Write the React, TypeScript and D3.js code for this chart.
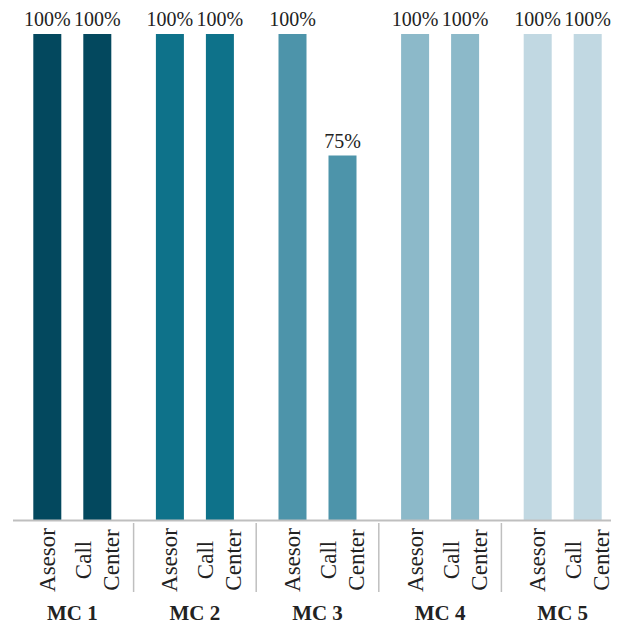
import React from "react";
import * as d3 from "d3";

// datos del gráfico
const grupos = ["MC 1", "MC 2", "MC 3", "MC 4", "MC 5"];
const series = ["Asesor", "Call Center"];
const asesor = [1, 1, 1, 1, 1];
const callCenter = [1, 1, 0.75, 1, 1];
const colores = ["#03485e", "#0e728a", "#4d94aa", "#8cb9c9", "#c1d8e2"];

const W = 620;
const H = 641;
const baseY = 520;
const topY = 34;
const barW = 28;
const font = { fontFamily: '"Liberation Serif", serif' };

const App = () => {
  const x = d3.scaleBand<string>().domain(grupos).range([11, 624]);
  const sub = d3.scalePoint<string>().domain(series).range([-25, 25]);
  const y = d3.scaleLinear().domain([0, 1]).range([baseY, topY]);
  const pct = d3.format(".0%");

  const valores = [asesor, callCenter];

  return (
    <svg width={W} height={H} style={{ position: "absolute", left: 0, top: 0 }}>
      <rect width={W} height={H} fill="#fff" />
      {grupos.map((g, gi) => {
        const cx = (x(g) ?? 0) + x.bandwidth() / 2;
        return (
          <g key={g}>
            {series.map((s, si) => {
              const v = valores[si][gi];
              const bx = cx + (sub(s) ?? 0);
              return (
                <g key={s}>
                  <rect
                    x={bx - barW / 2}
                    y={y(v)}
                    width={barW}
                    height={baseY - y(v)}
                    fill={colores[gi]}
                  />
                  <text
                    x={bx}
                    y={y(v) - 8}
                    textAnchor="middle"
                    style={font}
                    fontSize={20}
                    fill="#222"
                  >
                    {pct(v)}
                  </text>
                  {s.split(" ").map((w, li, arr) => (
                    <text
                      key={w}
                      transform={`translate(${bx + (li - (arr.length - 1) / 2) * 28},560) rotate(-90)`}
                      textAnchor="middle"
                      dominantBaseline="central"
                      style={font}
                      fontSize={23}
                      fill="#222"
                    >
                      {w}
                    </text>
                  ))}
                </g>
              );
            })}
            <text
              x={cx}
              y={620}
              textAnchor="middle"
              style={font}
              fontSize={21}
              fontWeight="bold"
              fill="#222"
            >
              {g}
            </text>
            {gi > 0 && (
              <line
                x1={x(g)}
                x2={x(g)}
                y1={523}
                y2={592}
                stroke="#bfbfbf"
                strokeWidth={1.5}
              />
            )}
          </g>
        );
      })}
      <line x1={13} x2={611} y1={baseY + 0.5} y2={baseY + 0.5} stroke="#bfbfbf" strokeWidth={2} />
    </svg>
  );
};

export default App;
